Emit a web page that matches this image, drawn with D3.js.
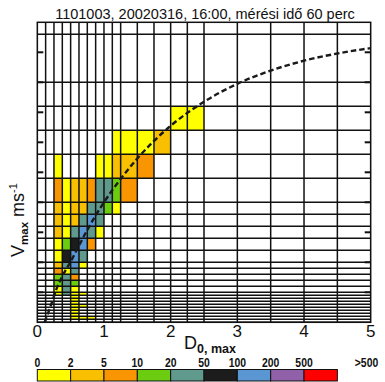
<!DOCTYPE html>
<html><head><meta charset="utf-8">
<script src="https://cdn.jsdelivr.net/npm/d3@7"></script>
<style>
html,body{margin:0;padding:0;background:#fff;}
svg{display:block;}
</style></head>
<body>
<script>
// ---- data ----
const title = "1101003, 20020316, 16:00, mérési idő 60 perc";
// diameter class edges (mm)
const dEdges = [0,0.125,0.25,0.375,0.5,0.625,0.75,0.875,1,1.125,1.25,1.5,1.75,2,2.25,2.5,3,3.5,4,4.5,5];
// velocity class edges (m/s)
const vEdges = [0,0.1,0.2,0.3,0.4,0.5,0.6,0.7,0.8,0.9,1,1.2,1.4,1.6,1.8,2,2.4,2.8,3.2,3.6,4,4.8,5.6,6.4,7.2,8,9.6,11.2];
const xTicks = [0,1,2,3,4,5];
const yTicks = [1,2,3,4,5,6,7,8,9];
// legend
const legendLabels = ["0","2","5","10","20","50","100","200","500",">500"];
const legendBreaks = [2,5,10,20,50,100,200,500];
const legendColors = ["#ffff00","#f8c000","#f99500","#6ccc10","#5f9a8c","#1c1c1c","#5a96d2","#9060a8","#ff0000"];
// drop counts per cell: key = velocity class index, values per diameter class index 0..
const counts = {
  23: [0,0,0,0,0,0,0,0,0,0,0,0,0,1,1],
  22: [0,0,0,0,0,0,0,0,0,1,1,1,3],
  21: [0,0,1,0,0,0,0,1,1,3,3,7],
  20: [0,0,7,1,3,3,7,30,30,15,7],
  19: [0,0,3,1,3,3,30,30,15,1],
  18: [0,0,3,1,3,30,150,30],
  17: [0,0,3,1,30,150,30,1],
  16: [0,0,1,15,70,150,7],
  15: [0,0,1,70,150,30],
  14: [0,0,3,30,150,1],
  13: [0,0,7,1,30],
  12: [0,0,15,30,7],
  11: [0,0,15,30,15],
  10: [0,0,1,30,1],
  9:  [0,0,1,30,1,1],
  8:  [0,0,0,0,1],
  7:  [0,0,0,0,1],
  6:  [0,0,0,0,1],
  5:  [0,0,0,0,1,1],
  4:  [0,0,0,0,1],
  3:  [0,0,0,0,1],
  2:  [0,0,0,0,1],
  1:  [0,0,0,0,1,1,1]
};
// dashed reference fall-velocity curve
const curveD = [0.11,0.2,0.3,0.4,0.5,0.6,0.75,1,1.25,1.5,2,2.5,3,3.5,4,4.5,5];
const curveV = [0,0.54,1.18,1.64,2.02,2.45,3.08,4.0,4.78,5.46,6.55,7.35,7.95,8.39,8.72,8.96,9.14];

// ---- drawing ----
const W = 385, H = 382;
const svg = d3.select("body").append("svg").attr("width",W).attr("height",H);
const x = d3.scaleLinear().domain([0,5]).range([37.3,370.7]);
const y = d3.scaleLinear().domain([0,10]).range([322.3,22.3]);
const color = d3.scaleThreshold().domain(legendBreaks).range(legendColors);

svg.append("defs").append("clipPath").attr("id","clip")
  .append("rect").attr("x",x(0)).attr("y",y(10)).attr("width",x(5)-x(0)).attr("height",y(0)-y(10));

const plot = svg.append("g").attr("clip-path","url(#clip)");
// cells
const cells = [];
Object.keys(counts).forEach(k=>{
  const vi = +k;
  counts[k].forEach((n,di)=>{ if(n>0) cells.push({vi,di,n}); });
});
plot.selectAll("rect.cell").data(cells).join("rect")
  .attr("class","cell")
  .attr("x",d=>x(dEdges[d.di]))
  .attr("y",d=>y(vEdges[d.vi+1]))
  .attr("width",d=>x(dEdges[d.di+1])-x(dEdges[d.di]))
  .attr("height",d=>y(vEdges[d.vi])-y(vEdges[d.vi+1]))
  .attr("fill",d=>color(d.n));

// grid lines
plot.selectAll("line.v").data(dEdges).join("line").attr("class","v")
  .attr("x1",d=>x(d)).attr("x2",d=>x(d)).attr("y1",y(0)).attr("y2",y(10))
  .attr("stroke","#111").attr("stroke-width",1.5);
plot.selectAll("line.h").data(vEdges).join("line").attr("class","h")
  .attr("y1",d=>y(d)).attr("y2",d=>y(d)).attr("x1",x(0)).attr("x2",x(5))
  .attr("stroke","#111").attr("stroke-width",1.4);

// border
svg.append("rect").attr("x",x(0)).attr("y",y(10)).attr("width",x(5)-x(0)).attr("height",y(0)-y(10))
  .attr("fill","none").attr("stroke","#111").attr("stroke-width",1.5);

// y ticks inside left and right
svg.selectAll("line.tl").data(yTicks).join("line").attr("class","tl")
  .attr("x1",x(0)).attr("x2",x(0)+6).attr("y1",d=>y(d)).attr("y2",d=>y(d))
  .attr("stroke","#111").attr("stroke-width",2);
svg.selectAll("line.tr").data(yTicks).join("line").attr("class","tr")
  .attr("x1",x(5)-6).attr("x2",x(5)).attr("y1",d=>y(d)).attr("y2",d=>y(d))
  .attr("stroke","#111").attr("stroke-width",2);

// dashed curve
const line = d3.line().x((d,i)=>x(curveD[i])).y((d,i)=>y(curveV[i])).curve(d3.curveMonotoneX);
plot.append("path").datum(curveD).attr("d",line).attr("fill","none")
  .attr("stroke","#1a1a1a").attr("stroke-width",2.4).attr("stroke-dasharray","5.5,3");

// x tick labels
svg.selectAll("text.xt").data(xTicks).join("text").attr("class","xt")
  .attr("x",d=>x(d)).attr("y",337).attr("text-anchor","middle")
  .attr("font-family","Liberation Sans, Arial, sans-serif").attr("font-size",17)
  .attr("fill","#111").text(d=>d);

// title
svg.append("text").attr("x",205).attr("y",18.5).attr("text-anchor","middle")
  .attr("font-family","Liberation Sans, Arial, sans-serif").attr("font-size",14.5)
  .attr("fill","#111").text(title);

// x axis title
const xt = svg.append("text").attr("x",184).attr("y",349)
  .attr("font-family","Liberation Sans, Arial, sans-serif").attr("fill","#111");
xt.append("tspan").attr("font-size",18).text("D");
xt.append("tspan").attr("font-size",12.5).attr("font-weight","bold").attr("dy",4).text("0, max");

// y axis title
const yt = svg.append("text").attr("transform","translate(24,257) rotate(-90)")
  .attr("font-family","Liberation Sans, Arial, sans-serif").attr("fill","#111");
yt.append("tspan").attr("font-size",18).text("V");
yt.append("tspan").attr("font-size",11.5).attr("font-weight","bold").attr("dy",4).text("max");
yt.append("tspan").attr("font-size",18).attr("dy",-4).text("\u00a0ms");
yt.append("tspan").attr("font-size",11).attr("dy",-7).text("-1");

// legend
const lx = d3.scaleLinear().domain([0,10]).range([37.3,370.7]);
svg.selectAll("rect.leg").data(legendColors).join("rect").attr("class","leg")
  .attr("x",(d,i)=>lx(i)).attr("y",369.5).attr("width",lx(1)-lx(0)).attr("height",11.5)
  .attr("fill",d=>d).attr("stroke","#111").attr("stroke-width",1);
svg.selectAll("text.leg").data(legendLabels).join("text").attr("class","leg")
  .attr("transform",(d,i)=>`translate(${i===9?366.5:lx(i)},367) scale(0.8,1)`)
  .attr("text-anchor","middle")
  .attr("font-family","Liberation Sans, Arial, sans-serif")
  .attr("font-weight","bold").attr("font-size",13).attr("fill","#111").text(d=>d);
</script>
</body></html>
